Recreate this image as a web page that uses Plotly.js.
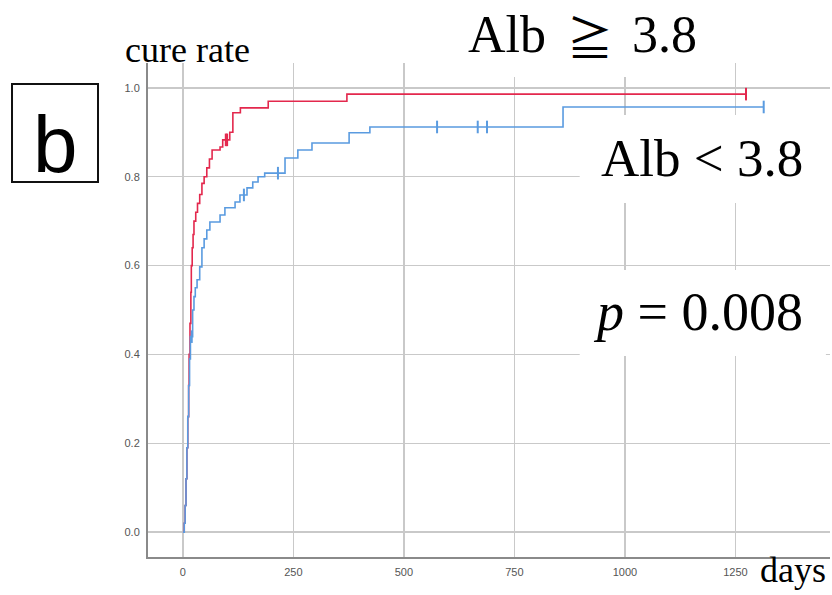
<!DOCTYPE html>
<html>
<head>
<meta charset="utf-8">
<script src="https://cdn.plot.ly/plotly-3.0.1.min.js"></script>
<style>html,body{margin:0;padding:0;background:#fff;}</style>
</head>
<body>
<div id="chart" style="width:832px;height:595px;"></div>
<script>
// Alb >= 3.8 (red)
const redDays = [0, 3, 5, 7, 9, 11, 13, 14, 16, 18, 19, 21, 23, 25, 29, 33, 38, 43, 48, 54, 60, 66, 84, 90, 106, 113, 130, 193, 371, 1274];
const redCure = [0, 0.02, 0.06, 0.12, 0.19, 0.26, 0.33, 0.40, 0.47, 0.54, 0.60, 0.64, 0.67, 0.70, 0.72, 0.74, 0.76, 0.785, 0.80, 0.82, 0.84, 0.86, 0.867, 0.883, 0.90, 0.944, 0.955, 0.97, 0.986, 0.986];
const redCensor = [97, 100, 1274];
// Alb < 3.8 (blue)
const blueDays = [0, 3, 5, 7, 9, 11, 13, 15, 17, 22, 25, 28, 32, 38, 43, 48, 54, 61, 84, 95, 118, 129, 145, 158, 170, 185, 231, 260, 292, 376, 423, 860, 1314];
const blueCure = [0, 0.02, 0.06, 0.12, 0.19, 0.26, 0.33, 0.39, 0.44, 0.50, 0.53, 0.55, 0.568, 0.597, 0.64, 0.66, 0.68, 0.698, 0.714, 0.73, 0.743, 0.759, 0.775, 0.788, 0.80, 0.808, 0.842, 0.86, 0.876, 0.899, 0.912, 0.957, 0.957];
const blueCensor = [20, 138, 215, 575, 667, 688, 1314];

const xTicks = [0, 250, 500, 750, 1000, 1250];
const yTicks = [0.0, 0.2, 0.4, 0.6, 0.8, 1.0];

function stepAt(days, cure, d) {
  let v = cure[0];
  for (let i = 0; i < days.length; i++) { if (days[i] <= d) v = cure[i]; }
  return v;
}

const RED = '#e3284d', BLUE = '#5a9be0';
const traces = [
  {x: redDays, y: redCure, mode: 'lines', line: {shape: 'hv', color: RED, width: 1.6}, hoverinfo: 'skip'},
  {x: blueDays, y: blueCure, mode: 'lines', line: {shape: 'hv', color: BLUE, width: 1.6}, hoverinfo: 'skip'},
  {x: redCensor, y: redCensor.map(d => stepAt(redDays, redCure, d)), mode: 'markers',
   marker: {symbol: 'line-ns-open', size: 9, color: RED, line: {color: RED, width: 2}}, hoverinfo: 'skip'},
  {x: blueCensor, y: blueCensor.map(d => stepAt(blueDays, blueCure, d)), mode: 'markers',
   marker: {symbol: 'line-ns-open', size: 9, color: BLUE, line: {color: BLUE, width: 2}}, hoverinfo: 'skip'}
];

const serif = 'Liberation Serif';
const titleFont = {family: serif, size: 52, color: '#000'};
const layout = {
  width: 832, height: 595,
  margin: {l: 148, r: 2, t: 63, b: 38},
  paper_bgcolor: '#fff', plot_bgcolor: '#fff',
  showlegend: false,
  xaxis: {
    range: [-79, 1464], tickvals: xTicks, ticktext: xTicks.map(String),
    showgrid: true, gridcolor: '#c9c9c9', gridwidth: 1.5, zeroline: false,
    showline: true, linecolor: '#8a8a8a', linewidth: 2, ticks: '', ticklabelstandoff: 4,
    tickfont: {family: 'Liberation Sans, Arial, sans-serif', size: 11, color: '#555'}
  },
  yaxis: {
    range: [-0.056, 1.056], tickvals: yTicks, ticktext: yTicks.map(v => v.toFixed(1)),
    showgrid: true, gridcolor: '#c9c9c9', gridwidth: 1.5, zeroline: false,
    showline: true, linecolor: '#8a8a8a', linewidth: 2, ticks: '', ticklabelstandoff: 4,
    tickfont: {family: 'Liberation Sans, Arial, sans-serif', size: 11, color: '#555'}
  },
  shapes: [
    {type: 'rect', xref: 'paper', yref: 'paper', x0: 0.384, x1: 0.839, y0: 0.9717, y1: 1.03, fillcolor: '#fff', line: {width: 0}, layer: 'above'},
    {type: 'rect', xref: 'paper', yref: 'paper', x0: 0.633, x1: 1.01, y0: 0.7166, y1: 0.8947, fillcolor: '#fff', line: {width: 0}, layer: 'above'},
    {type: 'rect', xref: 'paper', yref: 'paper', x0: 0.633, x1: 0.994, y0: 0.4069, y1: 0.581, fillcolor: '#fff', line: {width: 0}, layer: 'above'},
    {type: 'rect', xref: 'paper', yref: 'paper', x0: -0.1994, x1: -0.0733, y0: 0.759, y1: 0.9575, fillcolor: 'rgba(0,0,0,0)', line: {width: 2, color: '#111'}, layer: 'above'}
  ],
  annotations: [
    {text: 'cure rate', xref: 'paper', yref: 'paper', x: -0.0367, y: 1.026, xanchor: 'left', yanchor: 'middle', showarrow: false, font: {family: serif, size: 36, color: '#000'}},
    {text: 'Alb', xref: 'paper', yref: 'paper', x: 0.526, y: 1.0567, xanchor: 'center', yanchor: 'middle', showarrow: false, font: titleFont},
    {text: '≧', xref: 'paper', yref: 'paper', x: 0.648, y: 1.0567, xanchor: 'center', yanchor: 'middle', showarrow: false, font: {family: 'Noto Sans CJK JP', size: 46, color: '#000'}},
    {text: '3.8', xref: 'paper', yref: 'paper', x: 0.758, y: 1.0567, xanchor: 'center', yanchor: 'middle', showarrow: false, font: titleFont},
    {text: 'Alb < 3.8', xref: 'paper', yref: 'paper', x: 0.812, y: 0.807, xanchor: 'center', yanchor: 'middle', showarrow: false, font: {family: serif, size: 53, color: '#000'}},
    {text: '<i>p</i> = 0.008', xref: 'paper', yref: 'paper', x: 0.806, y: 0.496, xanchor: 'center', yanchor: 'middle', showarrow: false, font: {family: serif, size: 54, color: '#000'}},
    {text: 'days', xref: 'paper', yref: 'paper', x: 0.946, y: -0.026, xanchor: 'center', yanchor: 'middle', showarrow: false, font: {family: serif, size: 36, color: '#000'}},
    {text: 'b', xref: 'paper', yref: 'paper', x: -0.136, y: 0.836, xanchor: 'center', yanchor: 'middle', showarrow: false, font: {family: 'Liberation Sans, Arial, sans-serif', size: 80, color: '#000'}}
  ]
};

Plotly.newPlot('chart', traces, layout, {staticPlot: true, displayModeBar: false});
</script>
</body>
</html>
